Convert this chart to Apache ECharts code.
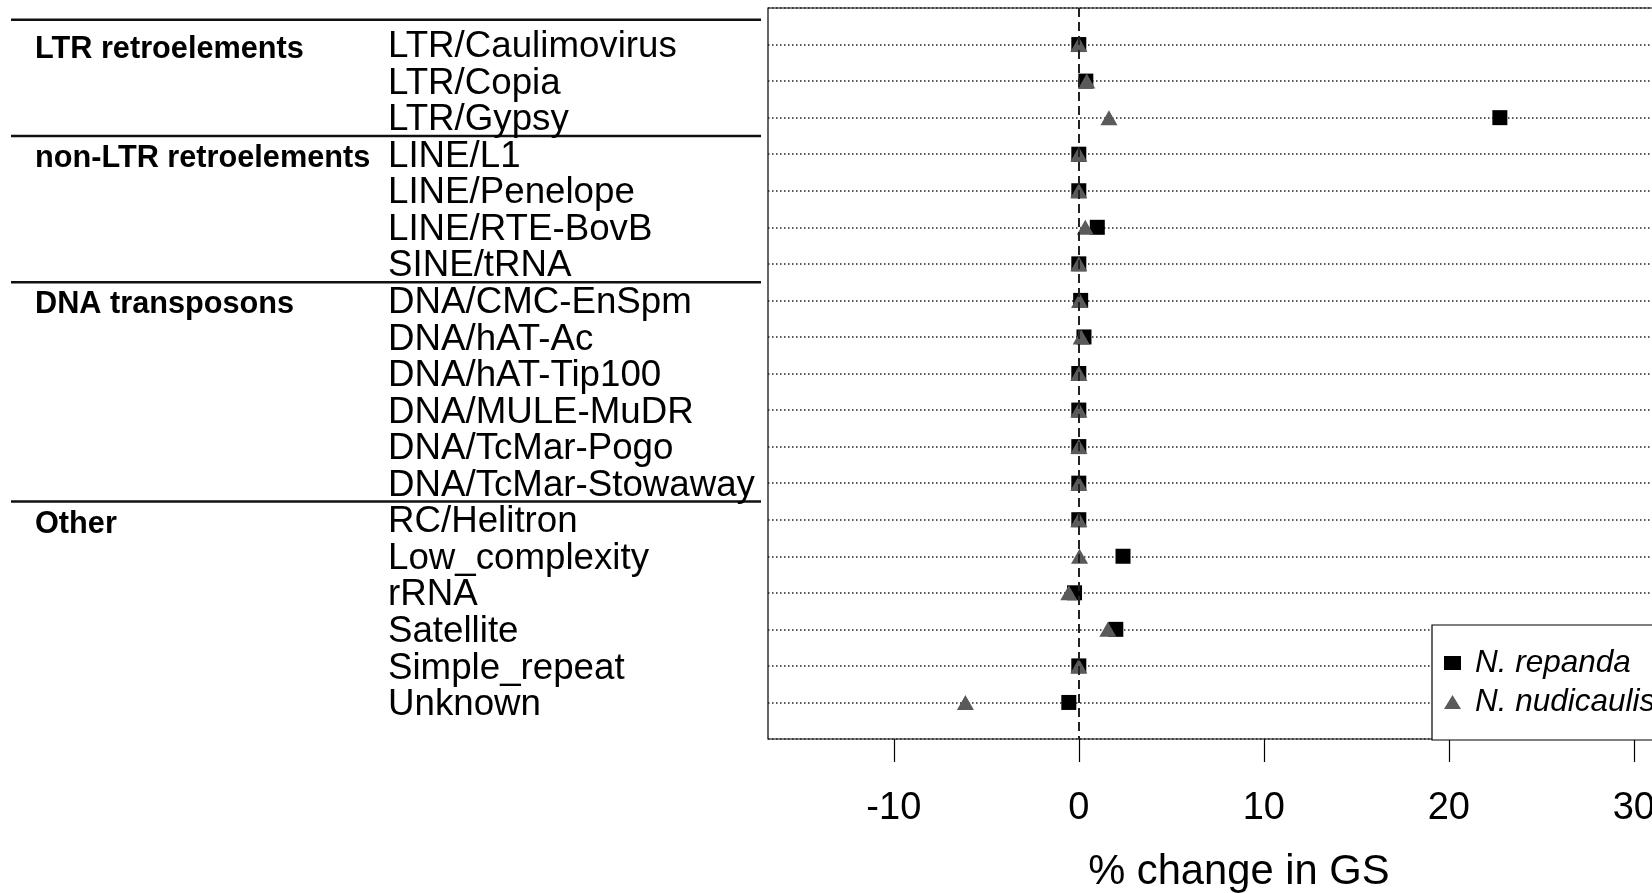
<!DOCTYPE html>
<html>
<head>
<meta charset="utf-8">
<script src="https://cdn.jsdelivr.net/npm/echarts@6/dist/echarts.min.js"></script>
<style>
  html, body { margin: 0; padding: 0; background: #fff; overflow: hidden; }
  /* the plot panel runs past the right edge of the window */
  #main { width: 1800px; height: 893px; }
</style>
</head>
<body>
<div id="main"></div>
<script>
// Repeat classes, top to bottom
const categories = [
  'LTR/Caulimovirus', 'LTR/Copia', 'LTR/Gypsy',
  'LINE/L1', 'LINE/Penelope', 'LINE/RTE-BovB', 'SINE/tRNA',
  'DNA/CMC-EnSpm', 'DNA/hAT-Ac', 'DNA/hAT-Tip100', 'DNA/MULE-MuDR', 'DNA/TcMar-Pogo', 'DNA/TcMar-Stowaway',
  'RC/Helitron', 'Low_complexity', 'rRNA', 'Satellite', 'Simple_repeat', 'Unknown'
];
// Higher-level groups and how many classes each one spans
const groupNames = ['LTR retroelements', 'non-LTR retroelements', 'DNA transposons', 'Other'];
const groupSizes = [3, 4, 6, 6];

// % change in genome size per repeat class
const repanda    = [0.0, 0.38, 22.76, 0.0, 0.0, 1.0, 0.0, 0.1, 0.28, 0.0, 0.0, 0.0, 0.0, 0.0, 2.39, -0.23, 2.0, 0.0, -0.54];
const nudicaulis = [0.0, 0.43, 1.63, 0.0, 0.0, 0.35, 0.0, 0.04, 0.13, 0.0, 0.0, 0.0, 0.0, 0.0, 0.04, -0.54, 1.57, 0.0, -6.13];

const seriesNames = ['N. repanda', 'N. nudicaulis'];
const xTicks = [-10, 0, 10, 20, 30];
const xTitle = '% change in GS';

const FONT = '"Liberation Sans", Arial, Helvetica, sans-serif';

// first class of each group -> group name
const groupAt = {};
let start = 0;
groupSizes.forEach((s, g) => { groupAt[start] = groupNames[g]; start += s; });

// one empty slot above and below the classes leaves a full row of margin
const yCats = [' '].concat(categories, ['  ']);

const chart = echarts.init(document.getElementById('main'), null, { renderer: 'canvas' });

const GRID_LEFT = 768;
const GRID_TOP = 8;
const GRID_BOTTOM_Y = 739;
const X_MIN = -16.8;
const X_MAX = 34.1;
const PX_PER_UNIT = 18.5;

const option = {
  animation: false,
  backgroundColor: '#fff',
  textStyle: { fontFamily: FONT },
  grid: {
    left: GRID_LEFT,
    top: GRID_TOP,
    width: (X_MAX - X_MIN) * PX_PER_UNIT,
    height: GRID_BOTTOM_Y - GRID_TOP,
    outerBoundsMode: 'none',
    containLabel: false,
    show: true,
    borderColor: '#000',
    borderWidth: 1.2,
    backgroundColor: 'transparent'
  },
  xAxis: {
    type: 'value',
    min: X_MIN,
    max: X_MAX,
    axisLine: { show: false },
    splitLine: { show: false },
    axisTick: {
      show: true, inside: false, length: 23,
      customValues: xTicks,
      lineStyle: { color: '#000', width: 1.2 }
    },
    axisLabel: {
      customValues: xTicks,
      margin: 51,
      fontSize: 38,
      color: '#000',
      fontFamily: FONT
    },
    name: xTitle,
    nameLocation: 'middle',
    nameGap: 113,
    nameTextStyle: { fontSize: 41.7, color: '#000', fontFamily: FONT }
  },
  yAxis: {
    type: 'category',
    data: yCats,
    inverse: true,
    boundaryGap: false,
    axisLine: { show: false },
    axisTick: { show: false },
    splitLine: {
      show: true,
      interval: 0,
      lineStyle: { color: '#222', width: 1.5, type: [1.5, 2.5] }
    },
    axisLabel: {
      interval: 0,
      align: 'left',
      margin: GRID_LEFT - 35,
      color: '#000',
      formatter: function (value, index) {
        const i = index - 1;
        if (i < 0 || i >= categories.length) return '';
        const g = groupAt[i] || ' ';
        return '{g|' + g + '}{c|' + value + '}';
      },
      rich: {
        g: { fontFamily: FONT, fontWeight: 'bold', fontSize: 30.7, width: 353, color: '#000', padding: [9, 0, 0, 0] },
        c: { fontFamily: FONT, fontSize: 36.7, color: '#000', padding: [5, 0, 0, 0] }
      }
    }
  },
  legend: {
    orient: 'vertical',
    left: 1432,
    top: 625,
    padding: [22, 80, 22, 12],
    backgroundColor: '#fff',
    borderColor: '#000',
    borderWidth: 1.2,
    itemWidth: 17,
    itemHeight: 14,
    itemGap: 7,
    selectedMode: false,
    textStyle: {
      fontFamily: FONT, fontStyle: 'italic', fontSize: 31.5, lineHeight: 30,
      color: '#000', padding: [0, 0, 0, 9]
    },
    data: [
      { name: seriesNames[0], icon: 'rect' },
      { name: seriesNames[1], icon: 'triangle' }
    ]
  },
  series: [
    {
      // zero reference line, kept beneath the markers
      type: 'scatter',
      name: 'zero',
      data: [],
      z: 1,
      silent: true,
      markLine: {
        silent: true,
        symbol: 'none',
        label: { show: false },
        lineStyle: { color: '#222', width: 2, type: [9, 5] },
        data: [{ xAxis: 0 }]
      }
    },
    {
      type: 'scatter',
      name: seriesNames[0],
      symbol: 'rect',
      symbolSize: 15,
      itemStyle: { color: '#000', opacity: 1 },
      z: 3,
      data: categories.map((c, i) => [repanda[i], c])
    },
    {
      type: 'scatter',
      name: seriesNames[1],
      symbol: 'triangle',
      symbolSize: [17, 15],
      itemStyle: { color: '#5a5a5a', opacity: 1 },
      z: 4,
      data: categories.map((c, i) => [nudicaulis[i], c])
    }
  ]
};

chart.setOption(option);

// horizontal rules of the class table, placed from the category scale
const yPix = name => chart.convertToPixel({ yAxisIndex: 0 }, name);
const rowStep = yPix(categories[1]) - yPix(categories[0]);
const ruleYs = [yPix(categories[0]) - 0.68 * rowStep];
let acc = 0;
for (let g = 1; g < groupSizes.length; g++) {
  acc += groupSizes[g - 1];
  ruleYs.push(yPix(categories[acc]) - rowStep / 2);
}
chart.setOption({
  graphic: ruleYs.map(y => ({
    type: 'line',
    shape: { x1: 11, y1: y, x2: GRID_LEFT - 7, y2: y },
    style: { stroke: '#111', lineWidth: 2.5 },
    silent: true
  }))
});
</script>
</body>
</html>
